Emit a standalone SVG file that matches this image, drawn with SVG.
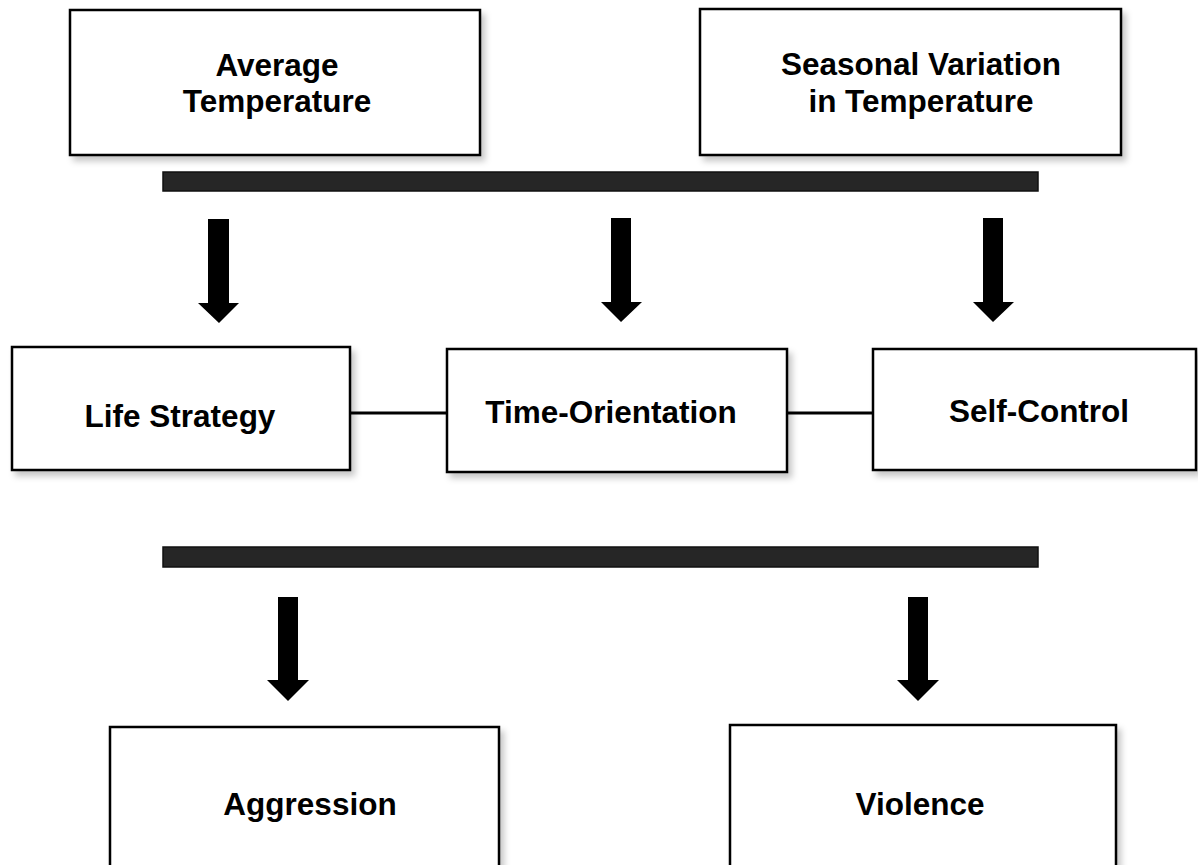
<svg xmlns="http://www.w3.org/2000/svg" width="1198" height="865" viewBox="0 0 1198 865">
<defs>
<filter id="sh" x="-10%" y="-10%" width="130%" height="130%">
<feDropShadow dx="4" dy="5" stdDeviation="3" flood-color="#000" flood-opacity="0.22"/>
</filter>
<style>
.box{fill:#fff;stroke:#000;stroke-width:2.5;filter:url(#sh)}
.bar{fill:#262626;stroke:#111;stroke-width:1.5}
.t{font-family:"Liberation Sans",Arial,sans-serif;font-weight:bold;font-size:31.5px;fill:#000;text-anchor:middle}
.arr{fill:#000}
.ln{stroke:#000;stroke-width:3;fill:none}
</style>
</defs>
<rect width="1198" height="865" fill="#fff"/>
<g id="node-avg">
<rect class="box" x="70" y="10" width="410" height="145"/>
<text class="t" x="277" y="76">Average</text>
<text class="t" x="277" y="112">Temperature</text>
</g>
<g id="node-seasonal">
<rect class="box" x="700" y="9" width="421" height="146"/>
<text class="t" x="921" y="75">Seasonal Variation</text>
<text class="t" x="921" y="112">in Temperature</text>
</g>
<g id="bar-top"><rect class="bar" x="163" y="172" width="875" height="19"/></g>
<g id="node-life">
<rect class="box" x="12" y="347" width="338" height="123"/>
<text class="t" x="180" y="427">Life Strategy</text>
</g>
<g id="node-time">
<rect class="box" x="447" y="349" width="340" height="123"/>
<text class="t" x="611" y="423">Time-Orientation</text>
</g>
<g id="node-self">
<rect class="box" x="873" y="349" width="323" height="121"/>
<text class="t" x="1039" y="422">Self-Control</text>
</g>
<g id="bar-bottom"><rect class="bar" x="163" y="547" width="875" height="20"/></g>
<g id="node-aggression">
<rect class="box" x="110" y="727" width="389" height="160"/>
<text class="t" x="310" y="815">Aggression</text>
</g>
<g id="node-violence">
<rect class="box" x="730" y="725" width="386" height="160"/>
<text class="t" x="920" y="815">Violence</text>
</g>
<g id="connectors">
<polygon class="arr" points="208,219 229,219 229,303 239,303 219,323 198,303 208,303"/>
<polygon class="arr" points="611,218 631,218 631,302 642,302 621,322 601,302 611,302"/>
<polygon class="arr" points="983,218 1003,218 1003,302 1014,302 993,322 973,302 983,302"/>
<polygon class="arr" points="278,597 298,597 298,680 309,680 288,701 267,680 278,680"/>
<polygon class="arr" points="908,597 928,597 928,680 939,680 918,701 897,680 908,680"/>
<line class="ln" x1="350" y1="413" x2="447" y2="413"/>
<line class="ln" x1="787" y1="413" x2="873" y2="413"/>
</g>
</svg>
